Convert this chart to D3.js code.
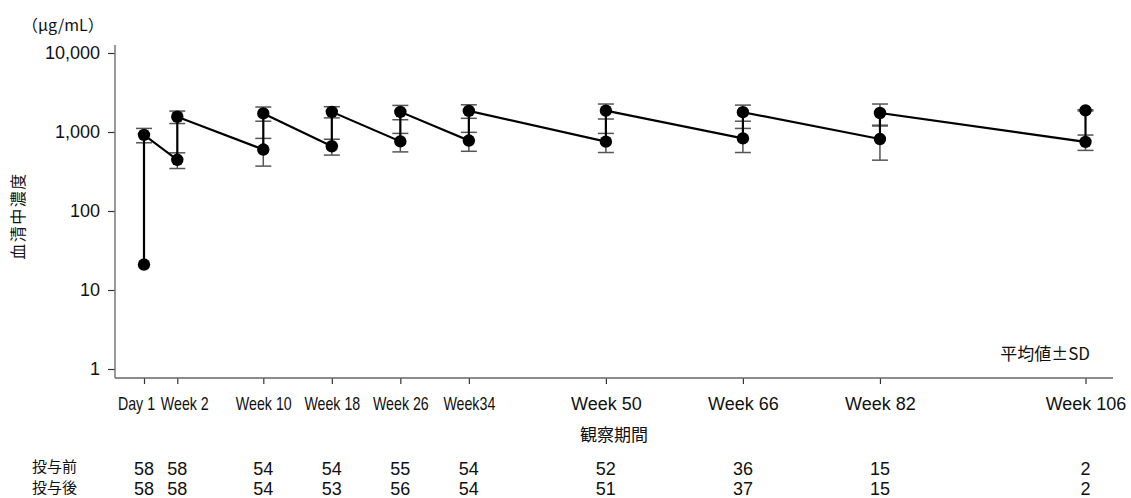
<!DOCTYPE html>
<html>
<head>
<meta charset="utf-8">
<script src="https://cdn.jsdelivr.net/npm/d3@7"></script>
<style>
  html, body { margin: 0; padding: 0; background: #fff; }
  svg { display: block; }
  .num { font-family: "Liberation Sans", Arial, sans-serif; }
  .jp { font-family: "Noto Sans CJK JP", sans-serif; }
</style>
</head>
<body>
<svg id="chart" width="1131" height="498"></svg>
<script>
// ---- data ----
const visits   = ["Day 1", "Week 2", "Week 10", "Week 18", "Week 26", "Week34", "Week 50", "Week 66", "Week 82", "Week 106"];
const weeks    = [0, 2, 10, 18, 26, 34, 50, 66, 82, 106];
const preMean  = [21, 445, 600, 660, 760, 780, 755, 830, 815, 750];
const preSD    = [0, 100, 230, 150, 200, 210, 205, 280, 375, 165];
const postMean = [920, 1560, 1720, 1800, 1800, 1850, 1860, 1780, 1740, 1880];
const postSD   = [190, 280, 350, 290, 370, 360, 400, 410, 520, 35];
const nPre     = [58, 58, 54, 54, 55, 54, 52, 36, 15, 2];
const nPost    = [58, 58, 54, 53, 56, 54, 51, 37, 15, 2];
const yTicks   = [1, 10, 100, 1000, 10000];
const rowLabels = ["投与前", "投与後"];
const condensedCount = 6; // first labels drawn condensed in the original

// ---- layout ----
const svg = d3.select("#chart");
const axisX0 = 115, axisX1 = 1113, axisY = 378, axisTop = 45;

const x = d3.scaleLinear().domain([0, 2, 10, 106]).range([144, 177.3, 263.3, 1085.5]);
const y = d3.scaleLog().domain([1, 10000]).range([369, 53]);

// y axis
const gy = svg.append("g").attr("transform", `translate(${axisX0},0)`)
  .call(d3.axisLeft(y).tickValues(yTicks).tickFormat(d3.format(",")).tickSize(7).tickPadding(8));
gy.select(".domain").remove();
gy.selectAll(".tick line").attr("stroke", "#333").attr("stroke-width", 1.2);
gy.selectAll(".tick text").attr("class", "num").attr("font-size", 18).attr("fill", "#111");
svg.append("line").attr("x1", axisX0).attr("x2", axisX0).attr("y1", axisTop).attr("y2", axisY)
  .attr("stroke", "#777").attr("stroke-width", 1.5);

// x axis
const gx = svg.append("g").attr("transform", `translate(0,${axisY})`)
  .call(d3.axisBottom(x).tickValues(weeks).tickFormat((d, i) => visits[i]).tickSize(6).tickPadding(13));
gx.select(".domain").remove();
gx.selectAll(".tick line").attr("stroke", "#333").attr("stroke-width", 1.2);
gx.selectAll(".tick text").attr("class", "num").attr("font-size", 18).attr("fill", "#111")
  .attr("transform", (d, i) => {
    if (i >= condensedCount) return null;
    const shift = i === 0 ? -8 : (i === 1 ? 7 : 0);
    return `translate(${shift},0) scale(0.79,1)`;
  });
svg.append("line").attr("x1", axisX0).attr("x2", axisX1).attr("y1", axisY).attr("y2", axisY)
  .attr("stroke", "#666").attr("stroke-width", 1.5);

// unit label
svg.append("text").attr("class", "jp").attr("x", 22).attr("y", 31).attr("font-size", 16).attr("fill", "#111")
  .text("（μg/mL）");

// y title
svg.append("text").attr("class", "jp").attr("transform", "translate(24,216) rotate(-90)")
  .attr("text-anchor", "middle").attr("font-size", 16).attr("letter-spacing", 1.5).attr("fill", "#111")
  .text("血清中濃度");

// x title
svg.append("text").attr("class", "jp").attr("x", 614).attr("y", 441).attr("text-anchor", "middle")
  .attr("font-size", 17).attr("fill", "#111").text("観察期間");

// legend note
svg.append("text").attr("class", "jp").attr("x", 1090).attr("y", 360).attr("text-anchor", "end")
  .attr("font-size", 17).attr("fill", "#111").text("平均値±SD");

// ---- error bars ----
const points = [];
weeks.forEach((w, i) => {
  points.push({ w, m: preMean[i], sd: preSD[i] });
  points.push({ w, m: postMean[i], sd: postSD[i] });
});
const capW = 8;
const eb = svg.append("g").attr("stroke", "#555").attr("stroke-width", 1.5).attr("fill", "none");
points.filter(p => p.sd > 0).forEach(p => {
  const yt = y(p.m + p.sd), yb = y(Math.max(p.m - p.sd, 1));
  eb.append("line").attr("x1", x(p.w)).attr("x2", x(p.w)).attr("y1", yt).attr("y2", yb);
  eb.append("line").attr("x1", x(p.w) - capW).attr("x2", x(p.w) + capW).attr("y1", yt).attr("y2", yt);
  eb.append("line").attr("x1", x(p.w) - capW).attr("x2", x(p.w) + capW).attr("y1", yb).attr("y2", yb);
});

// ---- main line (pre -> post -> next pre ...) ----
const line = d3.line().x(p => x(p.w)).y(p => y(p.m));
svg.append("path").datum(points).attr("d", line).attr("fill", "none")
  .attr("stroke", "#000").attr("stroke-width", 2.2).attr("stroke-linejoin", "miter");

// dots
svg.append("g").selectAll("circle").data(points).join("circle")
  .attr("cx", p => x(p.w)).attr("cy", p => y(p.m)).attr("r", 6.2).attr("fill", "#000");

// ---- n table ----
const rowData = [nPre, nPost];
const rowY = [475, 495];
const labY = [471.5, 493.2];
rowLabels.forEach((t, r) => {
  svg.append("text").attr("class", "jp").attr("x", 32).attr("y", labY[r])
    .attr("font-size", 15).attr("fill", "#111").text(t);
});
weeks.forEach((w, i) => {
  const t = svg.append("text").attr("class", "num").attr("text-anchor", "middle")
    .attr("font-size", 18).attr("fill", "#111");
  rowData.forEach((arr, r) => {
    t.append("tspan").attr("x", x(w)).attr("y", rowY[r]).text(arr[i]);
  });
});
</script>
</body>
</html>
